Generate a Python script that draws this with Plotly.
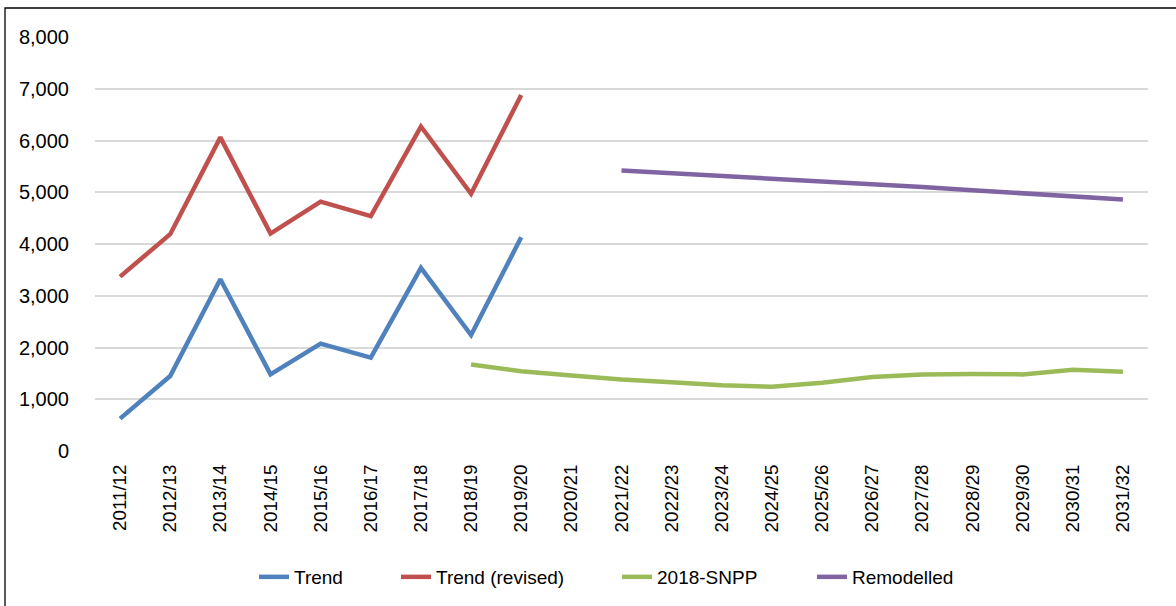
import plotly.graph_objects as go

years = [
    "2011/12", "2012/13", "2013/14", "2014/15", "2015/16", "2016/17", "2017/18",
    "2018/19", "2019/20", "2020/21", "2021/22", "2022/23", "2023/24", "2024/25",
    "2025/26", "2026/27", "2027/28", "2028/29", "2029/30", "2030/31", "2031/32",
]
trend = [625, 1450, 3320, 1480, 2075, 1805, 3540, 2240, 4130]
trend_revised = [3370, 4190, 6060, 4200, 4820, 4540, 6270, 4970, 6880]
snpp_2018 = [1670, 1540, 1460, 1380, 1330, 1270, 1240, 1320, 1430, 1480,
             1490, 1480, 1570, 1530]
remodelled = [5420, 5370, 5320, 5270, 5220, 5160, 5100, 5040, 4980, 4920, 4860]

W, H = 1176, 606
L, R, T, B = 95, 28, 37, 155
pw, ph = W - L - R, H - T - B


def px_x(p):
    return (p - L) / pw


def px_y(p):
    return (H - B - p) / ph


series = [
    ("Trend", 0, trend, "#4F81BD", 294),
    ("Trend (revised)", 0, trend_revised, "#C0504D", 436),
    ("2018-SNPP", 7, snpp_2018, "#9BBB59", 657),
    ("Remodelled", 10, remodelled, "#8064A2", 852),
]

fig = go.Figure()
legends = {}
for i, (name, start, vals, color, text_x) in enumerate(series):
    key = "legend" if i == 0 else f"legend{i + 1}"
    fig.add_trace(go.Scatter(x=years[start:start + len(vals)], y=vals,
                             name=name, mode="lines", legend=key,
                             line=dict(color=color, width=4.5)))
    # one legend per series so each entry sits where the original has it
    legends[key] = dict(x=px_x(text_x - 40), xanchor="left", y=px_y(577),
                        yanchor="middle", font=dict(size=19),
                        bgcolor="rgba(0,0,0,0)", borderwidth=0)

# chart-area border (only top and left edges are inside the picture)
fig.add_shape(type="rect", xref="paper", yref="paper",
              x0=px_x(5), x1=px_x(1220), y0=px_y(650), y1=px_y(8),
              line=dict(color="black", width=1.3), layer="below")

fig.update_layout(
    width=W, height=H,
    margin=dict(l=L, r=R, t=T, b=B, autoexpand=False),
    paper_bgcolor="white", plot_bgcolor="white",
    font=dict(family="Liberation Sans, Arial", size=20, color="black"),
    showlegend=True,
    xaxis=dict(type="category", categoryorder="array", categoryarray=years,
               range=[-0.5, len(years) - 0.5], tickangle=-90,
               tickfont=dict(size=18.8),
               showgrid=False, zeroline=False, showline=False,
               ticks="outside", ticklen=5, tickcolor="rgba(0,0,0,0)"),
    yaxis=dict(range=[0, 8000], dtick=1000, tickformat=",d",
               showgrid=True, gridcolor="#d9d9d9", gridwidth=2,
               zeroline=False, showline=False,
               ticks="outside", ticklen=21, tickcolor="rgba(0,0,0,0)"),
    **legends,
)

# drop the default 8px body margin so the figure fills the window exactly
fig.write_html("out.html", config={"displayModeBar": False},
               post_script="document.body.style.margin='0';")
